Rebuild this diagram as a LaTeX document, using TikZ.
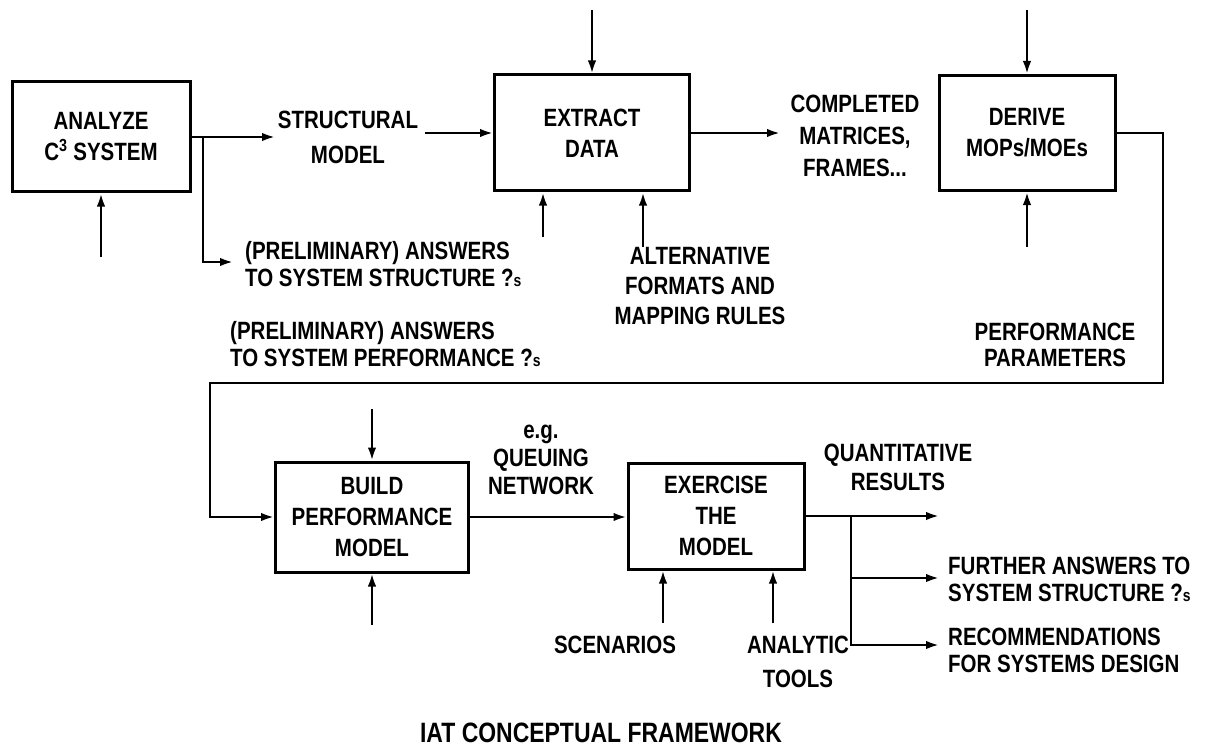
\documentclass[tikz,border=0pt]{standalone}
\usepackage{fontspec}
\setmainfont{Liberation Sans}[FakeStretch=0.82]
\usetikzlibrary{arrows.meta}
\newcommand\qsmark{?{\fontsize{17}{17}\selectfont s}}
\begin{document}
\begin{tikzpicture}[x=1pt,y=-1pt,
  font=\fontsize{25}{31}\selectfont\bfseries,
  box/.style={draw, line width=3pt, align=center, inner sep=0pt},
  lbl/.style={align=center, inner sep=0pt},
  lbll/.style={align=left, inner sep=0pt, anchor=west},
  conn/.style={line width=2.4pt, -{Latex[length=13pt,width=8.5pt]}}]
\useasboundingbox (0,0) rectangle (1209,754);

% boxes
\node[box, minimum width=178pt, minimum height=110pt] (analyze) at (101,137) {ANALYZE\\C\textsuperscript{3} SYSTEM};
\node[box, minimum width=195pt, minimum height=116pt] (extract) at (592,133) {EXTRACT\\DATA};
\node[box, minimum width=176pt, minimum height=115pt] (derive) at (1027,133) {DERIVE\\MOPs/MOEs};
\node[box, minimum width=193pt, minimum height=110pt] (build) at (372,517) {BUILD\\PERFORMANCE\\MODEL};
\node[box, minimum width=176pt, minimum height=106pt] (exercise) at (716,516) {EXERCISE\\THE\\MODEL};

% labels
\node[lbl, font=\fontsize{25}{35}\selectfont\bfseries] (structural) at (348,137) {STRUCTURAL\\MODEL};
\node[lbll, font=\fontsize{25}{27}\selectfont\bfseries] (prelimS) at (245,264) {(PRELIMINARY) ANSWERS\\TO SYSTEM STRUCTURE \qsmark};
\node[lbll, font=\fontsize{25}{27}\selectfont\bfseries] (prelimP) at (230,344) {(PRELIMINARY) ANSWERS\\TO SYSTEM PERFORMANCE \qsmark};
\node[lbl, font=\fontsize{25}{32}\selectfont\bfseries] (completed) at (855,136) {COMPLETED\\MATRICES,\\FRAMES...};
\node[lbl, font=\fontsize{25}{30}\selectfont\bfseries] (alt) at (700,286) {ALTERNATIVE\\FORMATS AND\\MAPPING RULES};
\node[lbl, font=\fontsize{25}{26}\selectfont\bfseries] (perfpar) at (1055,345) {PERFORMANCE\\PARAMETERS};
\node[lbl, font=\fontsize{25}{28}\selectfont\bfseries] (queuing) at (541,460) {e.g.\\QUEUING\\NETWORK};
\node[lbl, font=\fontsize{25}{29}\selectfont\bfseries] (quant) at (898,467) {QUANTITATIVE\\RESULTS};
\node[lbll, font=\fontsize{25}{27}\selectfont\bfseries] (further) at (948,579) {FURTHER ANSWERS TO\\SYSTEM STRUCTURE \qsmark};
\node[lbll, font=\fontsize{25}{27}\selectfont\bfseries] (recomm) at (948,650) {RECOMMENDATIONS\\FOR SYSTEMS DESIGN};
\node[lbl] (scen) at (615,645) {SCENARIOS};
\node[lbl, font=\fontsize{25}{34}\selectfont\bfseries] (analytic) at (798,662) {ANALYTIC\\TOOLS};
\node[lbl, font=\fontsize{28}{30}\selectfont\bfseries] (title) at (601,733) {IAT CONCEPTUAL FRAMEWORK};

% coordinates for free ends
\coordinate (sEnd) at (275,137);
\coordinate (brA) at (203,137);
\coordinate (pEnd) at (233,262);
\coordinate (aIn) at (101,257);
\coordinate (smStart) at (425,133);
\coordinate (eTop) at (592,10);
\coordinate (eB1) at (543,237);
\coordinate (eB2) at (643,247);
\coordinate (cEnd) at (780,133);
\coordinate (dTop) at (1027,10);
\coordinate (dBot) at (1027,247);
\coordinate (l1) at (1163,383);
\coordinate (l2) at (210,383);
\coordinate (bTop) at (372,409);
\coordinate (bBot) at (372,625);
\coordinate (qEnd) at (939,516);
\coordinate (brB) at (851,516);
\coordinate (fEnd) at (939,578);
\coordinate (rEnd) at (939,645);
\coordinate (xB1) at (663,623);
\coordinate (xB2) at (773,623);

% connectors
\draw[conn] (analyze.east) -- (sEnd);
\draw[conn] (brA) |- (pEnd);
\draw[conn] (aIn) -- (analyze.south);
\draw[conn] (smStart) -- (extract.west);
\draw[conn] (eTop) -- (extract.north);
\draw[conn] (eB1) -- (eB1 |- extract.south);
\draw[conn] (eB2) -- (eB2 |- extract.south);
\draw[conn] (extract.east) -- (cEnd);
\draw[conn] (dTop) -- (derive.north);
\draw[conn] (dBot) -- (derive.south);
\draw[conn] (derive.east) -| (l1) -- (l2) |- (build.west);
\draw[conn] (bTop) -- (build.north);
\draw[conn] (bBot) -- (build.south);
\draw[conn] (build.east) -- (build.east -| exercise.west);
\draw[conn] (exercise.east) -- (qEnd);
\draw[conn] (brB) |- (rEnd);
\draw[conn] (brB |- fEnd) -- (fEnd);
\draw[conn] (xB1) -- (xB1 |- exercise.south);
\draw[conn] (xB2) -- (xB2 |- exercise.south);
\end{tikzpicture}
\end{document}
